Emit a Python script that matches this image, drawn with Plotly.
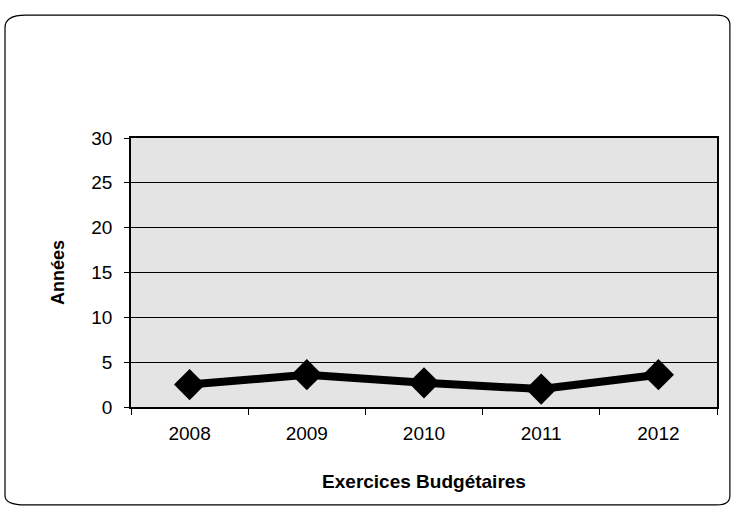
import plotly.graph_objects as go

years = ["2008", "2009", "2010", "2011", "2012"]
values = [2.5, 3.6, 2.7, 2.0, 3.6]
y_ticks = [0, 5, 10, 15, 20, 25, 30]

fig = go.Figure()
fig.add_trace(go.Scatter(
    x=years, y=values, mode="lines+markers",
    line=dict(color="black", width=8),
    marker=dict(symbol="diamond", size=24, color="black"),
    showlegend=False,
))

fig.update_layout(
    width=735, height=508,
    margin=dict(l=131, r=18, t=138, b=101),
    paper_bgcolor="white",
    plot_bgcolor="#e4e4e4",
    font=dict(family="Liberation Sans, Arial", size=19, color="black"),
    xaxis=dict(
        type="category", range=[-0.5, 4.5],
        showline=True, linecolor="black", linewidth=1.5, mirror=True,
        ticks="outside", tickson="boundaries", ticklen=6, tickcolor="black",
        showgrid=False,
        tickfont=dict(size=19), ticklabelstandoff=8,
        title=dict(text="<b>Exercices Budgétaires</b>", font=dict(size=19), standoff=32),
    ),
    yaxis=dict(
        range=[0, 30], tickvals=y_ticks,
        showline=True, linecolor="black", linewidth=1.5, mirror=True,
        ticks="outside", ticklen=5, tickcolor="black",
        showgrid=True, gridcolor="black", gridwidth=1,
        zeroline=False,
        tickfont=dict(size=19), ticklabelstandoff=8,
        title=dict(text="<b>Années</b>", font=dict(size=18), standoff=22),
    ),
    shapes=[dict(
        type="path", xref="paper", yref="paper",
        path="M -0.215,1.41 Q -0.215,1.457 -0.18,1.457 L 1.0,1.457 Q 1.022,1.457 1.022,1.42 "
             "L 1.022,-0.33 Q 1.022,-0.364 1.0,-0.364 L -0.18,-0.364 Q -0.215,-0.364 -0.215,-0.33 Z",
        line=dict(color="black", width=1.2),
    )],
)

fig.write_html("out.html")
